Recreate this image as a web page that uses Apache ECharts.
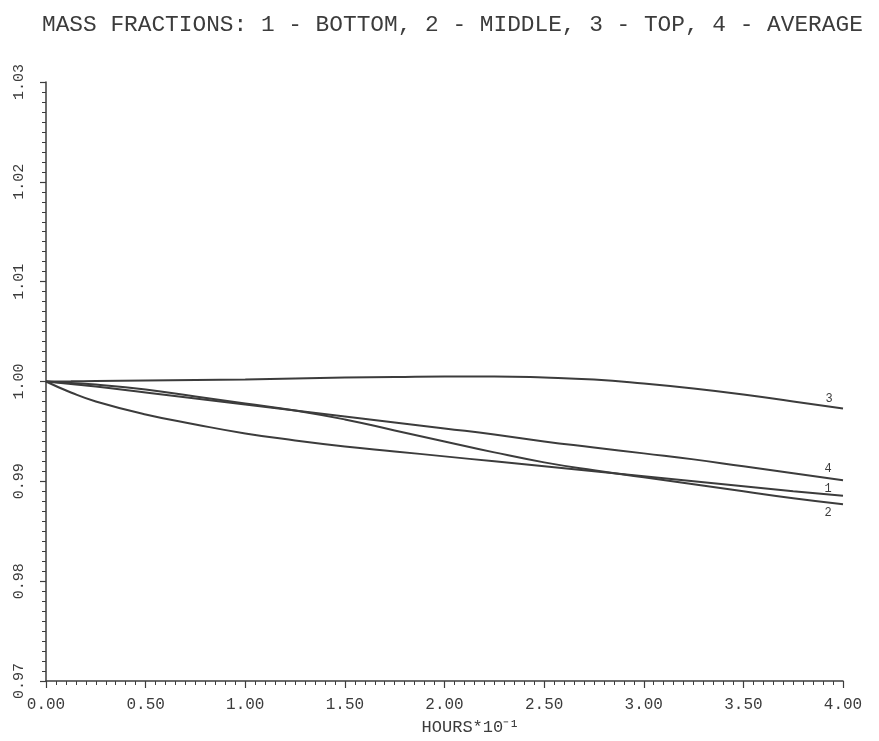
<!DOCTYPE html>
<html>
<head>
<meta charset="utf-8">
<script src="https://cdn.jsdelivr.net/npm/echarts@6/dist/echarts.min.js"></script>
<style>
  html, body { margin: 0; padding: 0; background: #fff; }
  #chart { width: 879px; height: 741px; }
</style>
</head>
<body>
<div id="chart"></div>
<script>
// hours * 10^-1
const hours = [0, 0.125, 0.25, 0.5, 0.75, 1.0, 1.25, 1.5, 1.75, 2.0, 2.25, 2.5, 2.75, 3.0, 3.25, 3.5, 3.75, 4.0];

// mass fractions
const bottom  = [1.0000, 0.9989, 0.9980, 0.9967, 0.9957, 0.9948, 0.9941, 0.9935, 0.9930, 0.9925, 0.9920, 0.9915, 0.9910, 0.9905, 0.9900, 0.9895, 0.9890, 0.98855];
const middle  = [1.0000, 0.99985, 0.9997, 0.9992, 0.9985, 0.9978, 0.9971, 0.9962, 0.9951, 0.9940, 0.9929, 0.9919, 0.9911, 0.9904, 0.9897, 0.9890, 0.9883, 0.9877];
const top_    = [1.0000, 1.00002, 1.00005, 1.0001, 1.00015, 1.0002, 1.0003, 1.0004, 1.00045, 1.0005, 1.0005, 1.0004, 1.0002, 0.9998, 0.9993, 0.9987, 0.9980, 0.9973];
const average = [1.0000, 0.99975, 0.9995, 0.9989, 0.9983, 0.9977, 0.9971, 0.9965, 0.9959, 0.9953, 0.9947, 0.9940, 0.9934, 0.9928, 0.9922, 0.9915, 0.9908, 0.9901];

const curveNames = ["1", "2", "3", "4"];
const yTicks = [0.97, 0.98, 0.99, 1.00, 1.01, 1.02, 1.03];

const ink = "#3c3c3c";
const mono = "Liberation Mono";

function makeSeries(name, values, offset) {
  const last = values.length - 1;
  return {
    name: name,
    type: "line",
    smooth: true,
    showSymbol: true,
    symbolSize: 0,
    data: hours.map((h, i) => [h, values[i]]),
    lineStyle: { color: ink, width: 2 },
    itemStyle: { color: ink },
    label: {
      show: true,
      position: "inside",
      offset: offset,
      fontFamily: mono,
      fontSize: 12,
      color: ink,
      formatter: (p) => (p.dataIndex === last ? name : "")
    },
    emphasis: { disabled: true }
  };
}

const chart = echarts.init(document.getElementById("chart"));

chart.setOption({
  animation: false,
  backgroundColor: "#fff",
  title: {
    text: "MASS FRACTIONS: 1 - BOTTOM, 2 - MIDDLE, 3 - TOP, 4 - AVERAGE",
    left: 37,
    top: 8,
    textStyle: { fontFamily: mono, fontSize: 22.8, fontWeight: "normal", color: ink }
  },
  grid: { left: 46, right: 36, top: 82, bottom: 59 },
  xAxis: {
    type: "value",
    min: 0,
    max: 4,
    interval: 0.5,
    name: "HOURS*10⁻¹",
    nameLocation: "middle",
    nameGap: 38,
    nameTextStyle: { fontFamily: mono, fontSize: 17, color: ink, padding: [0, 0, 0, 52] },
    axisLine: { lineStyle: { color: ink, width: 1.5 } },
    axisTick: { length: 7, lineStyle: { color: ink, width: 1.2 } },
    minorTick: { show: true, splitNumber: 10, length: 4, lineStyle: { color: ink, width: 1 } },
    axisLabel: {
      margin: 16,
      fontFamily: mono,
      fontSize: 16,
      color: ink,
      formatter: (v) => v.toFixed(2)
    },
    splitLine: { show: false }
  },
  yAxis: {
    type: "value",
    min: yTicks[0],
    max: yTicks[yTicks.length - 1],
    interval: 0.01,
    axisLine: { lineStyle: { color: ink, width: 1.5 } },
    axisTick: { length: 6, lineStyle: { color: ink, width: 1.2 } },
    minorTick: { show: true, splitNumber: 10, length: 4, lineStyle: { color: ink, width: 1 } },
    axisLabel: {
      rotate: 90,
      margin: 19,
      fontFamily: mono,
      fontSize: 15,
      color: ink,
      formatter: (v) => v.toFixed(2)
    },
    splitLine: { show: false }
  },
  series: [
    makeSeries(curveNames[0], bottom, [-15, -7]),
    makeSeries(curveNames[1], middle, [-15, 9]),
    makeSeries(curveNames[2], top_, [-14, -10]),
    makeSeries(curveNames[3], average, [-15, -12])
  ]
});
</script>
</body>
</html>
